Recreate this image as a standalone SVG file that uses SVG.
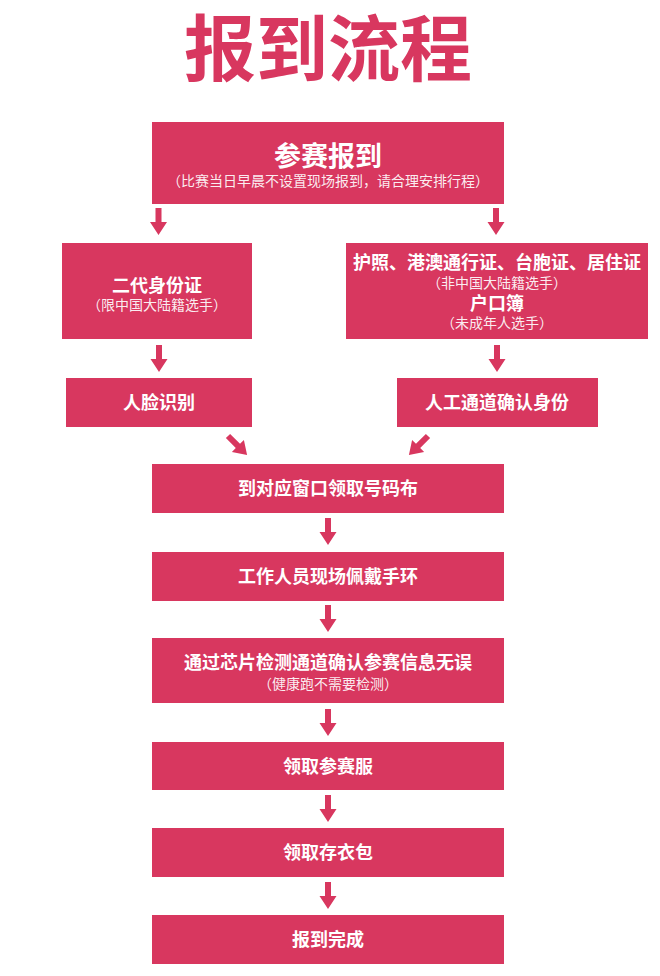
<svg xmlns="http://www.w3.org/2000/svg" xmlns:xlink="http://www.w3.org/1999/xlink" width="660" height="976" viewBox="0 0 660 976">
<defs>
<style>
.box{fill:#D8375F;}
.t{font-family:"Noto Sans CJK SC","Noto Sans",sans-serif;fill:#ffffff;text-anchor:middle;}
.b{font-weight:bold;font-size:18px;}
.s{font-weight:normal;font-size:14px;fill-opacity:0.92;}
.arr{fill:#D8375F;}
</style>
<path id="ar" d="M -3 0 H 3 V 14 H 8.5 L 0 27 L -8.5 14 H -3 Z"/>
</defs>
<rect width="660" height="976" fill="#ffffff"/>
<text x="328" y="75" font-family="'Noto Sans CJK SC','Noto Sans',sans-serif" font-weight="bold" font-size="72" fill="#D8375F" text-anchor="middle">报到流程</text>

<g id="n_start">
<rect class="box" x="152" y="122" width="352" height="82"/>
<text class="t" x="328" y="166" font-weight="bold" font-size="27">参赛报到</text>
<text class="t s" x="328" y="186">（比赛当日早晨不设置现场报到，请合理安排行程）</text>
</g>
<g id="n_idcard">
<rect class="box" x="62" y="243" width="190" height="96"/>
<text class="t b" x="157" y="292">二代身份证</text>
<text class="t s" x="157" y="310">（限中国大陆籍选手）</text>
</g>
<g id="n_passport">
<rect class="box" x="346" y="243" width="302" height="96"/>
<text class="t b" x="497" y="269">护照、港澳通行证、台胞证、居住证</text>
<text class="t s" x="497" y="288">（非中国大陆籍选手）</text>
<text class="t b" x="497" y="310">户口簿</text>
<text class="t s" x="497" y="328">（未成年人选手）</text>
</g>
<g id="n_face">
<rect class="box" x="66" y="378" width="186" height="49"/>
<text class="t b" x="159" y="409">人脸识别</text>
</g>
<g id="n_manual">
<rect class="box" x="397" y="378" width="201" height="49"/>
<text class="t b" x="497" y="409">人工通道确认身份</text>
</g>
<g id="n_bib">
<rect class="box" x="152" y="464" width="352" height="49"/>
<text class="t b" x="328" y="495">到对应窗口领取号码布</text>
</g>
<g id="n_band">
<rect class="box" x="152" y="552" width="352" height="49"/>
<text class="t b" x="328" y="583">工作人员现场佩戴手环</text>
</g>
<g id="n_chip">
<rect class="box" x="152" y="638" width="352" height="65"/>
<text class="t b" x="328" y="669">通过芯片检测通道确认参赛信息无误</text>
<text class="t s" x="328" y="689">（健康跑不需要检测）</text>
</g>
<g id="n_shirt">
<rect class="box" x="152" y="742" width="352" height="48"/>
<text class="t b" x="328" y="773">领取参赛服</text>
</g>
<g id="n_bag">
<rect class="box" x="152" y="828" width="352" height="49"/>
<text class="t b" x="328" y="859">领取存衣包</text>
</g>
<g id="n_done">
<rect class="box" x="152" y="915" width="352" height="49"/>
<text class="t b" x="328" y="946">报到完成</text>
</g>

<g id="connectors" class="arr">
<use xlink:href="#ar" href="#ar" transform="translate(158.5,208)"/>
<use xlink:href="#ar" href="#ar" transform="translate(496,208)"/>
<use xlink:href="#ar" href="#ar" transform="translate(159,345)"/>
<use xlink:href="#ar" href="#ar" transform="translate(497,345)"/>
<use xlink:href="#ar" href="#ar" transform="translate(228,436) rotate(-45)"/>
<use xlink:href="#ar" href="#ar" transform="translate(428,436) rotate(45)"/>
<use xlink:href="#ar" href="#ar" transform="translate(328,518)"/>
<use xlink:href="#ar" href="#ar" transform="translate(328,605)"/>
<use xlink:href="#ar" href="#ar" transform="translate(328,709)"/>
<use xlink:href="#ar" href="#ar" transform="translate(328,795)"/>
<use xlink:href="#ar" href="#ar" transform="translate(328,882)"/>
</g>
</svg>
